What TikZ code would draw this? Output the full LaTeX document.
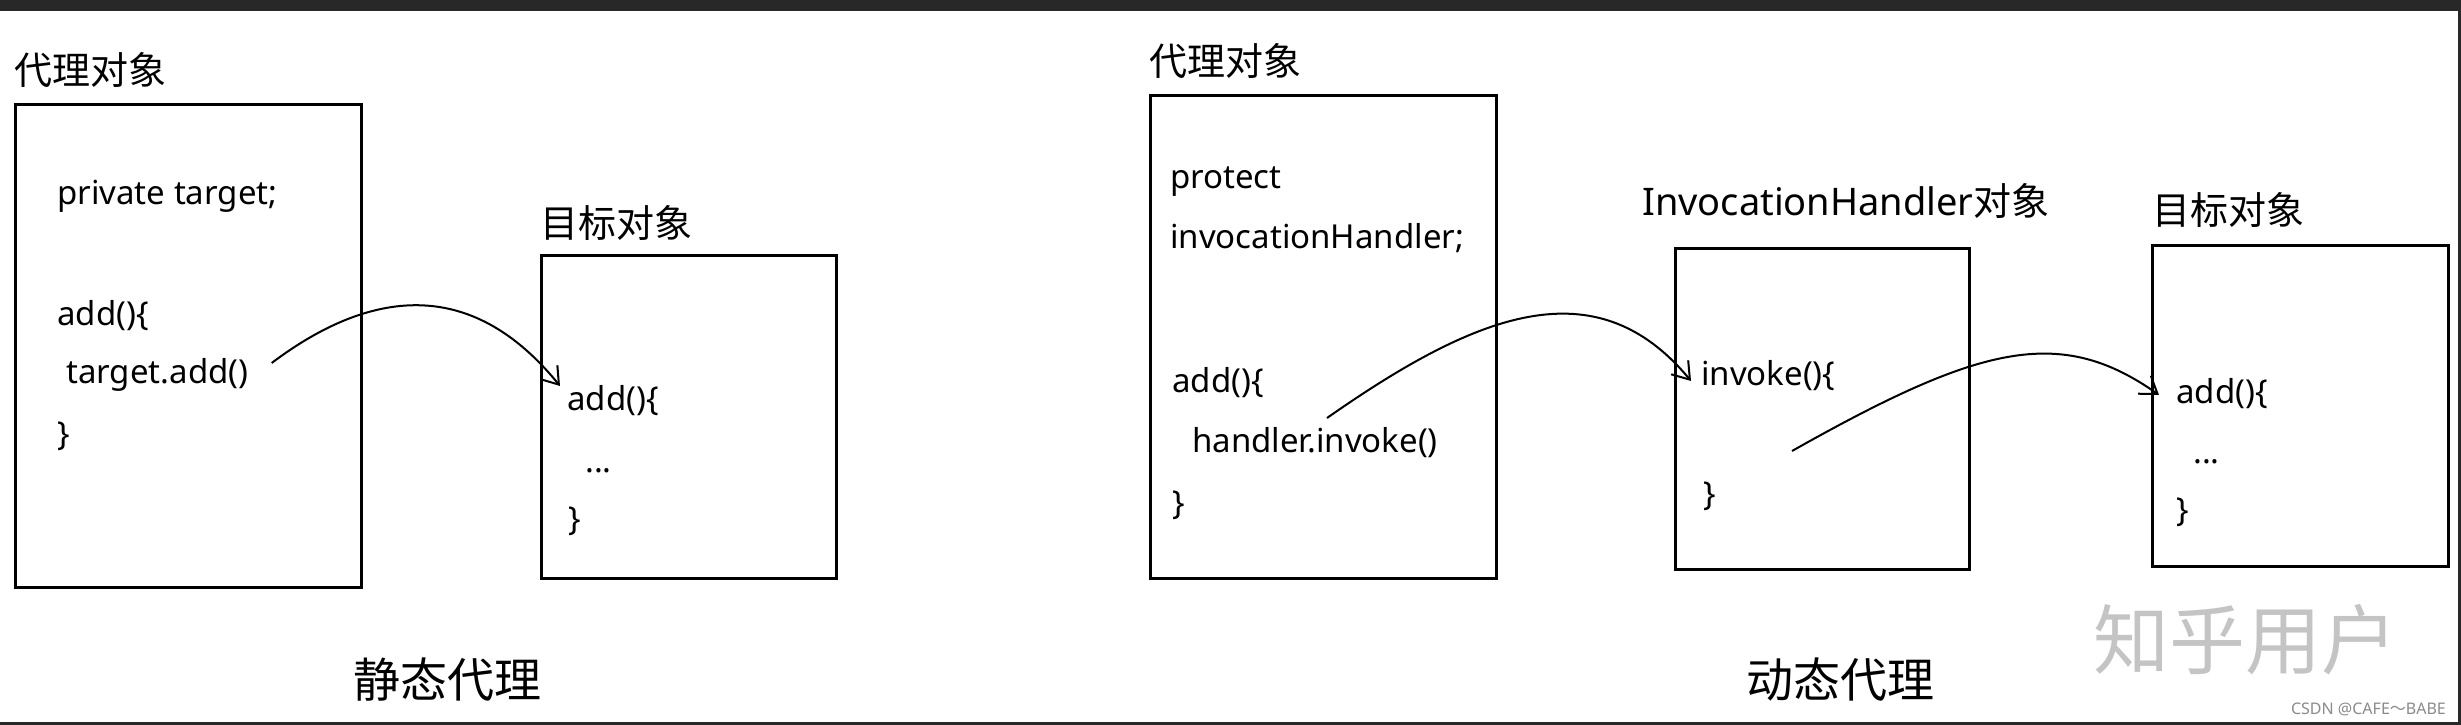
\documentclass[tikz,border=0pt]{standalone}
\usepackage{fontspec}
\setmainfont{Noto Sans}
\newfontfamily\cjk{Noto Sans CJK SC}
\usetikzlibrary{arrows.meta, positioning}

\definecolor{framedark}{HTML}{282828}
\definecolor{markgray}{HTML}{C4C4C4}
\definecolor{signgray}{HTML}{8A8A8A}

\tikzset{
	objbox/.style={draw, line width=3pt, anchor=north west, inner sep=0pt},
	codeline/.style={anchor=west, inner sep=0pt, font=\fontsize{33}{40}\selectfont, text height=24pt, text depth=6.5pt},
	objlabel/.style={anchor=west, inner sep=0pt, font=\fontsize{38}{46}\selectfont},
	caption/.style={anchor=west, inner sep=0pt, font=\cjk\fontsize{47}{56}\selectfont},
	callarrow/.style={-{Straight Barb[length=16pt, width=22pt]}, line width=2pt},
}

\begin{document}
\begin{tikzpicture}[x=1pt, y=-1pt]
	\useasboundingbox (0,0) rectangle (2461,725);
	
	% Frame
	\fill[framedark] (0,0) rectangle (2461,11);
	\fill[framedark] (0,722) rectangle (2461,725);
	\fill[framedark] (2458,0) rectangle (2461,725);
	
	% Boxes
	\node[objbox, minimum width=346pt, minimum height=483pt] (proxyS) at (14,103) {};
	\node[objbox, minimum width=295pt, minimum height=323pt] (targetS) at (540,254) {};
	\node[objbox, minimum width=346pt, minimum height=483pt] (proxyD) at (1149,94) {};
	\node[objbox, minimum width=294pt, minimum height=321pt] (handlerD) at (1674,247) {};
	\node[objbox, minimum width=296pt, minimum height=321pt] (targetD) at (2151,244) {};
	
	% Labels
	\node[objlabel] (lblProxyS) at (14,70) {\cjk 代理对象};
	\node[objlabel] (lblTargetS) at (540,223) {\cjk 目标对象};
	\node[objlabel] (lblProxyD) at (1149,61) {\cjk 代理对象};
	\node[objlabel] (lblHandlerD) at (1642,201) {InvocationHandler{\cjk 对象}};
	\node[objlabel] (lblTargetD) at (2152,210) {\cjk 目标对象};
	
	% Static proxy code
	\node[codeline] (fieldS) at (57,196) {private target;};
	\node[codeline] (addS) at (57,317) {add()\{};
	\node[codeline] (callS) at (66,375) {target.add()};
	\node[codeline] (endS) at (57,437) {\}};
	\node[codeline] (addT) at (567,402) {add()\{};
	\node[codeline] (bodyT) at (585,464) {...};
	\node[codeline] (endT) at (568,522) {\}};
	
	% Dynamic proxy code
	\node[codeline] (fieldD1) at (1170,180) {protect};
	\node[codeline] (fieldD2) at (1170,240) {invocationHandler;};
	\node[codeline] (addD) at (1172,384) {add()\{};
	\node[codeline] (callD) at (1192,444) {handler.invoke()};
	\node[codeline] (endD) at (1172,506) {\}};
	\node[codeline] (invokeH) at (1701,377) {invoke()\{};
	\node[codeline] (endH) at (1703,497) {\}};
	\node[codeline] (addTD) at (2176,395) {add()\{};
	\node[codeline] (bodyTD) at (2193,455) {...};
	\node[codeline] (endTD) at (2176,513) {\}};
	
	% Captions
	\node[caption] (capStatic) at (353,680) {静态代理};
	\node[caption] (capDynamic) at (1746,680) {动态代理};
	\node[anchor=west, inner sep=0pt, text=markgray, font=\cjk\fontsize{76}{90}\selectfont] (mark) at (2093,640) {知乎用户};
	\node[anchor=east, inner sep=0pt, text=signgray, font=\fontsize{16}{20}\selectfont] (sign) at (2446,709) {CSDN @CAFE{\cjk ～}BABE};
	
	% Arrows
	\draw[callarrow] ([shift={(23,-12)}]callS.east) .. controls +(97,-73) and +(-90,-111) .. ([shift={(-7,-16)}]addT.west);
	\draw[callarrow] ([shift={(135,-26)}]callD.west) .. controls +(150,-105) and +(-95,-115) .. ([shift={(-10,4)}]invokeH.west);
	\draw[callarrow] ([shift={(91,74)}]invokeH.west) .. controls +(188,-106) and +(-99,-70) .. ([shift={(-17,0)}]addTD.west);
	
\end{tikzpicture}
\end{document}
